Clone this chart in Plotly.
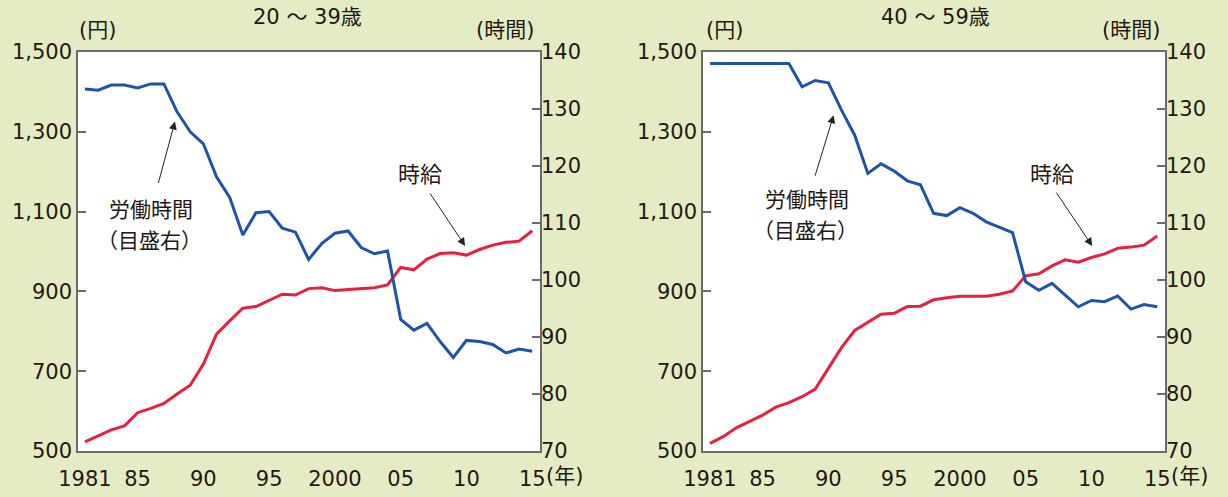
import plotly.graph_objects as go

# Years covered by both panels
years = list(range(1981, 2016))

# 20-39 age group
wage_20_39 = [523, 538, 553, 563, 596, 607, 619, 643, 665, 718,
              793, 826, 858, 862, 877, 893, 891, 907, 909, 902,
              905, 907, 909, 916, 960, 954, 981, 995, 997, 991,
              1005, 1016, 1023, 1026, 1052]
hours_20_39 = [133.5, 133.3, 134.2, 134.2, 133.7, 134.4, 134.4, 129.5, 126.0, 123.9,
               118.1, 114.5, 107.9, 111.8, 112.0, 109.1, 108.4, 103.6, 106.4, 108.2,
               108.6, 105.7, 104.6, 105.1, 93.1, 91.2, 92.4, 89.2, 86.4, 89.4,
               89.2, 88.7, 87.2, 87.9, 87.5]

# 40-59 age group
wage_40_59 = [519, 536, 558, 573, 590, 610, 621, 636, 655, 707,
              759, 802, 823, 843, 845, 862, 863, 879, 884, 888,
              888, 888, 893, 901, 939, 944, 964, 979, 973, 985,
              994, 1008, 1011, 1016, 1039]
hours_40_59 = [138.0, 138.0, 138.0, 138.0, 138.0, 138.0, 138.0, 133.9, 135.0, 134.6,
               129.8, 125.4, 118.7, 120.4, 119.1, 117.4, 116.7, 111.7, 111.3, 112.7,
               111.7, 110.2, 109.2, 108.3, 99.7, 98.2, 99.4, 97.4, 95.3, 96.4,
               96.2, 97.2, 94.9, 95.7, 95.3]

x_tickvals = [1981, 1985, 1990, 1995, 2000, 2005, 2010, 2015]
x_ticktext = ["1981", "85", "90", "95", "2000", "05", "10", "15"]
yen_ticks = [500, 700, 900, 1100, 1300, 1500]
yen_text = ["500", "700", "900", "1,100", "1,300", "1,500"]
hour_ticks = [70, 80, 90, 100, 110, 120, 130, 140]

W, H = 1228, 497
BG = "#E5ECC4"
TXT = "#231815"
BLUE = "#1D55A6"
RED = "#E8203F"
AXC = "#6B6B6B"
FONT = "DejaVu Sans, Noto Sans CJK JP, sans-serif"
JFONT = "Noto Sans CJK JP, sans-serif"
FS = 21

fig = go.Figure()

panels = [
    dict(wage=wage_20_39, hours=hours_20_39, xa="x", ya="y", ya2="y2"),
    dict(wage=wage_40_59, hours=hours_40_59, xa="x2", ya="y3", ya2="y4"),
]
for p in panels:
    fig.add_trace(go.Scatter(x=years, y=p["wage"], xaxis=p["xa"], yaxis=p["ya"],
                             mode="lines", line=dict(color=RED, width=3),
                             showlegend=False, hoverinfo="skip"))
    fig.add_trace(go.Scatter(x=years, y=p["hours"], xaxis=p["xa"], yaxis=p["ya2"],
                             mode="lines", line=dict(color=BLUE, width=3),
                             showlegend=False, hoverinfo="skip"))

ydom = [(H - 451) / H, (H - 52) / H]
xdom1 = [78 / W, 540 / W]
xdom2 = [703 / W, 1165 / W]
xrange_ = [1980.47, 2015.59]

tickfont = dict(size=FS, color=TXT, family=FONT)
xcommon = dict(range=xrange_, tickvals=x_tickvals, ticktext=x_ticktext,
               showline=True, linecolor=AXC, linewidth=1.5, mirror=True,
               ticks="", showgrid=False, zeroline=False, automargin=False,
               tickfont=tickfont, ticklabelstandoff=8)
yl = dict(range=[500, 1500], tickvals=yen_ticks, ticktext=yen_text,
          showline=True, linecolor=AXC, linewidth=1.5, mirror=True,
          ticks="inside", ticklen=8, tickcolor=AXC, tickwidth=1.5,
          showgrid=False, zeroline=False, automargin=False,
          tickfont=tickfont)
yr = dict(range=[70, 140], tickvals=hour_ticks, side="right",
          showline=False, ticks="inside", ticklen=8, tickcolor=AXC, tickwidth=1.5,
          showgrid=False, zeroline=False, automargin=False,
          tickfont=tickfont)

fig.update_layout(
    width=W, height=H,
    margin=dict(l=0, r=0, t=0, b=0, pad=0, autoexpand=False),
    paper_bgcolor=BG, plot_bgcolor="white",
    font=dict(family=FONT, color=TXT),
    xaxis=dict(domain=xdom1, anchor="y", **xcommon),
    xaxis2=dict(domain=xdom2, anchor="y3", **xcommon),
    yaxis=dict(domain=ydom, anchor="x", **yl),
    yaxis2=dict(domain=ydom, anchor="x", overlaying="y", **yr),
    yaxis3=dict(domain=ydom, anchor="x2", **yl),
    yaxis4=dict(domain=ydom, anchor="x2", overlaying="y3", **yr),
)

ann = []


def text(px, py, s, size=FS, family=FONT):
    ann.append(dict(x=px / W, y=1 - py / H, xref="paper", yref="paper",
                    text=s, showarrow=False, xanchor="center", yanchor="middle",
                    font=dict(size=size, color=TXT, family=family)))


def arrow(xref, yref, x, y, ax, ay):
    ann.append(dict(x=x, y=y, xref=xref, yref=yref, ax=ax, ay=ay,
                    text="", showarrow=True, arrowhead=2, arrowsize=1.6,
                    arrowwidth=1, arrowcolor="#222222"))


# Panel titles and axis units
text(307, 17, "20 ～ 39歳")
text(935, 17, "40 ～ 59歳")
text(98, 30, "(円)")
text(505, 30, "(時間)")
text(724, 30, "(円)")
text(1131, 30, "(時間)")

# Year unit after the last tick label
for xr, yr_ in [("x", "y domain"), ("x2", "y3 domain")]:
    ann.append(dict(x=2015, y=0, xref=xr, yref=yr_, text="(年)",
                    showarrow=False, xanchor="left", yanchor="middle",
                    xshift=12, yshift=-25,
                    font=dict(size=FS, color=TXT, family=FONT)))

# Series labels
text(151, 208, "労働時間", size=21, family=JFONT)
text(149, 239, "（目盛右）", size=21, family=JFONT)
text(420, 172, "時給", size=22, family=JFONT)
text(807, 198, "労働時間", size=21, family=JFONT)
text(805, 229, "（目盛右）", size=21, family=JFONT)
text(1052, 172, "時給", size=22, family=JFONT)

# Pointer arrows
arrow("x", "y2", 1987.84, 127.8, -17, 63)
arrow("x", "y", 2009.9, 1013.8, -36, -54)
arrow("x2", "y4", 1990.4, 128.9, -19, 62)
arrow("x2", "y3", 2010.06, 1013.8, -37, -55)

fig.update_layout(annotations=ann)

fig.write_html("out.html")
